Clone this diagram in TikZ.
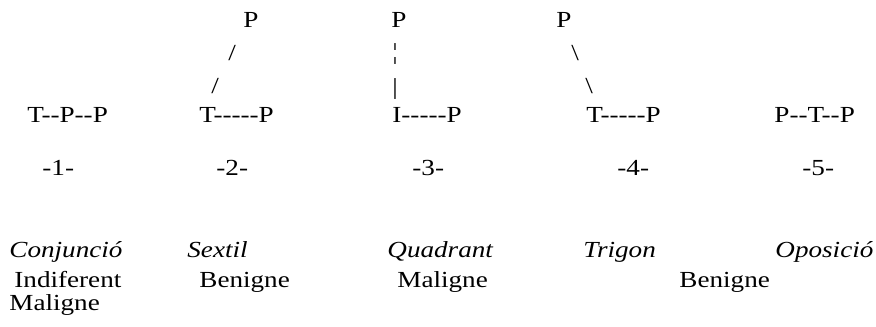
\documentclass[tikz,border=0pt]{standalone}
\usepackage{fontspec}
\setmainfont{Liberation Serif}[FakeStretch=1.18,Ligatures=TeXOff]
\usepackage{tikz}

\begin{document}
\begin{tikzpicture}[x=0.5pt,y=0.5pt,yscale=-1,xscale=1,
  txt/.style={anchor=base west,inner sep=0pt,font=\fontsize{11.5}{14}\selectfont}]
\useasboundingbox (0,0) rectangle (876,326);

% Text Node
\node (topP2) at (243,28) [txt] {P};
% Text Node
\node (topP3) at (391,28) [txt] {P};
% Text Node
\node (topP4) at (556,28) [txt] {P};

% Text Node
\node (slashA) at (228,61) [txt] {/};
% Text Node
\node (slashB) at (211,94) [txt] {/};
% Text Node
\node (barA) at (392,60) [txt] {¦};
% Text Node
\node (barB) at (392,95) [txt] {|};
% Text Node
\node (bslashA) at (571,61) [txt] {\textbackslash};
% Text Node
\node (bslashB) at (585,94) [txt] {\textbackslash};

% Text Node
\node (fig1) at (27,122) [txt] {T--P--P};
% Text Node
\node (fig2) at (199,122) [txt] {T-----P};
% Text Node
\node (fig3) at (392,122) [txt] {I-----P};
% Text Node
\node (fig4) at (586,122) [txt] {T-----P};
% Text Node
\node (fig5) at (774,122) [txt] {P--T--P};

% Text Node
\node (num1) at (42,175) [txt] {-1-};
% Text Node
\node (num2) at (216,175) [txt] {-2-};
% Text Node
\node (num3) at (412,175) [txt] {-3-};
% Text Node
\node (num4) at (617,175) [txt] {-4-};
% Text Node
\node (num5) at (802,175) [txt] {-5-};

% Text Node
\node (asp1) at (9,257) [txt] {\itshape Conjunció};
% Text Node
\node (asp2) at (187,257) [txt] {\itshape Sextil};
% Text Node
\node (asp3) at (387,257) [txt] {\itshape Quadrant};
% Text Node
\node (asp4) at (583,257) [txt] {\itshape Trigon};
% Text Node
\node (asp5) at (775,257) [txt] {\itshape Oposició};

% Text Node
\node (qual1) at (14,287) [txt] {Indiferent};
% Text Node
\node (qual2) at (199,287) [txt] {Benigne};
% Text Node
\node (qual3) at (397,287) [txt] {Maligne};
% Text Node
\node (qual4) at (679,287) [txt] {Benigne};
% Text Node
\node (qual5) at (9,310) [txt] {Maligne};
\end{tikzpicture}
\end{document}
